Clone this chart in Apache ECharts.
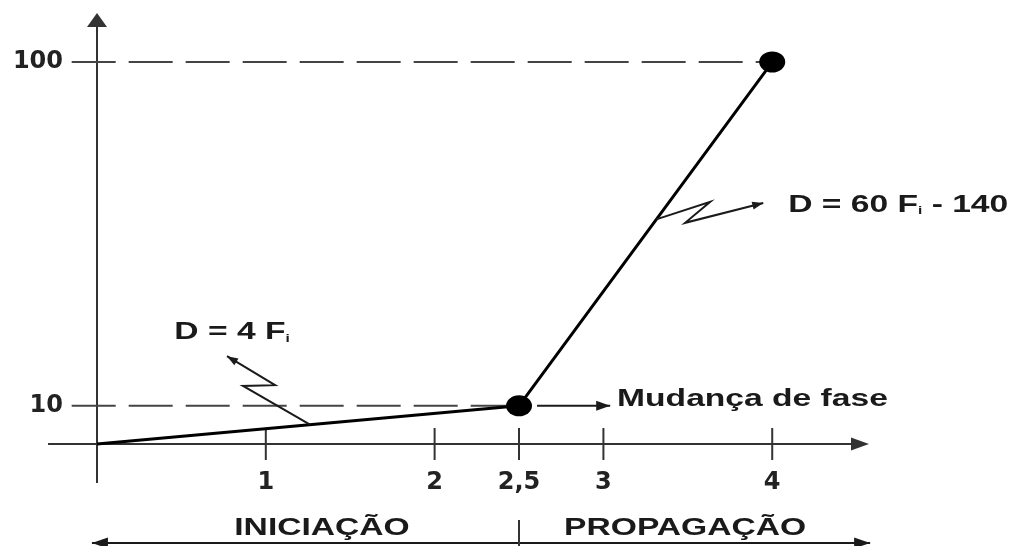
<!DOCTYPE html>
<html><head><meta charset="utf-8">
<script src="https://cdn.jsdelivr.net/npm/echarts@6/dist/echarts.min.js"></script>
<style>html,body{margin:0;padding:0;background:#fff}#c{width:1022px;height:546px}</style>
</head><body><div id="c"></div>
<script>
// ---- data ----
const fiValues = [0, 2.5, 4];
const dValues = [0, 10, 100];
const markedFi = [2.5, 4];
const markedD = [10, 100];
const xTickValues = [1, 2, 2.5, 3, 4];
const xTickLabels = ['1', '2', '2,5', '3', '4'];
const yTickValues = [10, 100];
const yTickLabels = ['10', '100'];
const phaseLabels = ['INICIAÇÃO', 'PROPAGAÇÃO'];
const phaseChangeFi = 2.5;
const eqLow = 'D = 4 F{s|i}';
const eqHigh = 'D = 60 F{s|i} - 140';
const phaseText = 'Mudança de fase';

const chart = echarts.init(document.getElementById('c'), null, {renderer: 'canvas'});
const axisColor = '#333';
const labelFont = {fontFamily: 'DejaVu Sans', fontWeight: 'bold', fontSize: 24, color: '#222'};

chart.setOption({
  animation: false,
  backgroundColor: '#fff',
  grid: {left: 97, right: 162, top: 20, bottom: 102, containLabel: false, outerBoundsMode: 'none'},
  xAxis: {
    type: 'value', min: 0, max: 4.52,
    splitLine: {show: false},
    axisTick: {show: false},
    axisLine: {show: true, onZero: false, symbol: ['none', 'triangle'], symbolSize: [13, 18],
      lineStyle: {color: axisColor, width: 2}},
    axisLabel: Object.assign({
      customValues: xTickValues, margin: 27,
      formatter: v => xTickLabels[xTickValues.indexOf(v)]
    }, labelFont)
  },
  yAxis: {
    type: 'value', min: 0, max: 111,
    splitLine: {show: false},
    axisTick: {show: false},
    axisLine: {show: true, onZero: false, symbol: ['none', 'triangle'], symbolSize: [20, 14],
      lineStyle: {color: axisColor, width: 2}},
    axisLabel: Object.assign({
      customValues: yTickValues, margin: 34,
      formatter: v => yTickLabels[yTickValues.indexOf(v)]
    }, labelFont)
  },
  series: [
    {
      type: 'line', name: 'D', clip: false,
      data: fiValues.map((f, i) => [f, dValues[i]]),
      symbol: 'none', z: 5,
      lineStyle: {color: '#000', width: 3}
    },
    {
      type: 'scatter', name: 'ticks', z: 3, clip: false,
      data: xTickValues.map(v => [v, 0]),
      symbol: 'rect', symbolSize: [2, 32],
      itemStyle: {color: axisColor, opacity: 1}
    },
    {
      type: 'scatter', name: 'points', z: 10, clip: false,
      data: markedFi.map((f, i) => [f, markedD[i]]),
      symbol: 'circle', symbolSize: [26, 21],
      itemStyle: {color: '#000', opacity: 1}
    }
  ]
});

// ---- annotations ----
const P = (x, y) => chart.convertToPixel({gridIndex: 0}, [x, y]);
const ink = '#1a1a1a';
function head(tip, from, len, w) {
  const dx = tip[0] - from[0], dy = tip[1] - from[1];
  const L = Math.hypot(dx, dy), ux = dx / L, uy = dy / L;
  const bx = tip[0] - ux * len, by = tip[1] - uy * len;
  return [tip, [bx - uy * w / 2, by + ux * w / 2], [bx + uy * w / 2, by - ux * w / 2]];
}
function arrowPath(pts, len, w, both) {
  const els = [{type: 'polyline', z: 30, shape: {points: pts}, style: {stroke: ink, lineWidth: 2, fill: null}, silent: true}];
  const n = pts.length;
  els.push({type: 'polygon', z: 30, shape: {points: head(pts[n - 1], pts[n - 2], len, w)}, style: {fill: ink}, silent: true});
  if (both) els.push({type: 'polygon', z: 30, shape: {points: head(pts[0], pts[1], len, w)}, style: {fill: ink}, silent: true});
  return els;
}
const textBase = {fontFamily: 'Liberation Sans', fontWeight: 'bold', fontSize: 24, fill: ink, verticalAlign: 'middle'};
const subRich = {s: {fontFamily: 'Liberation Sans', fontWeight: 'bold', fontSize: 11, verticalAlign: 'bottom', fill: ink}};
function txt(pos, text, align) {
  return {type: 'text', x: pos[0], y: pos[1], scaleX: 1.4, silent: true, z: 30,
    style: Object.assign({text: text, align: align, rich: subRich}, textBase)};
}

const els = [];
// dashed guide lines to the marked points
markedFi.forEach((f, i) => {
  const a = P(-0.15, markedD[i]), b = P(f, markedD[i]);
  els.push({type: 'line', z: 1, silent: true, shape: {x1: a[0], y1: a[1], x2: b[0], y2: b[1]},
    style: {stroke: '#444', lineWidth: 2, lineDash: [44, 13]}});
});
// axis extensions beyond the origin
const o = P(0, 0);
els.push({type: 'line', z: 1, shape: {x1: P(-0.29, 0)[0], y1: o[1], x2: o[0], y2: o[1]}, style: {stroke: axisColor, lineWidth: 2}, silent: true});
els.push({type: 'line', z: 1, shape: {x1: o[0], y1: o[1], x2: o[0], y2: P(0, -10.2)[1]}, style: {stroke: axisColor, lineWidth: 2}, silent: true});
// D = 4 Fi
els.push(txt(P(0.80, 29.3), eqLow, 'center'));
els.push(...arrowPath([P(1.262, 5.05), P(0.865, 15.2), P(1.055, 15.4), P(0.770, 23.0)], 11, 8));
// D = 60 Fi - 140
els.push(txt(P(4.095, 62.6), eqHigh, 'left'));
els.push(...arrowPath([P(3.313, 58.8), P(3.633, 63.4), P(3.484, 57.9), P(3.947, 63.1)], 11, 8));
// Mudança de fase
els.push(...arrowPath([P(2.607, 10), P(3.04, 10)], 14, 10));
els.push(txt(P(3.081, 11.6), phaseText, 'left'));
// phases
const yBottom = 543;
const leftEnd = [P(-0.03, 0)[0], yBottom], rightEnd = [P(4.58, 0)[0], yBottom];
els.push(...arrowPath([leftEnd, rightEnd], 16, 11, true));
const xDiv = P(phaseChangeFi, 0)[0];
els.push({type: 'line', z: 30, shape: {x1: xDiv, y1: 520, x2: xDiv, y2: 546}, style: {stroke: axisColor, lineWidth: 2}, silent: true});
els.push(txt([P(1.333, 0)[0], 528], phaseLabels[0], 'center'));
els.push(txt([P(3.484, 0)[0], 528], phaseLabels[1], 'center'));

chart.setOption({graphic: {elements: els}});
</script>
</body></html>
